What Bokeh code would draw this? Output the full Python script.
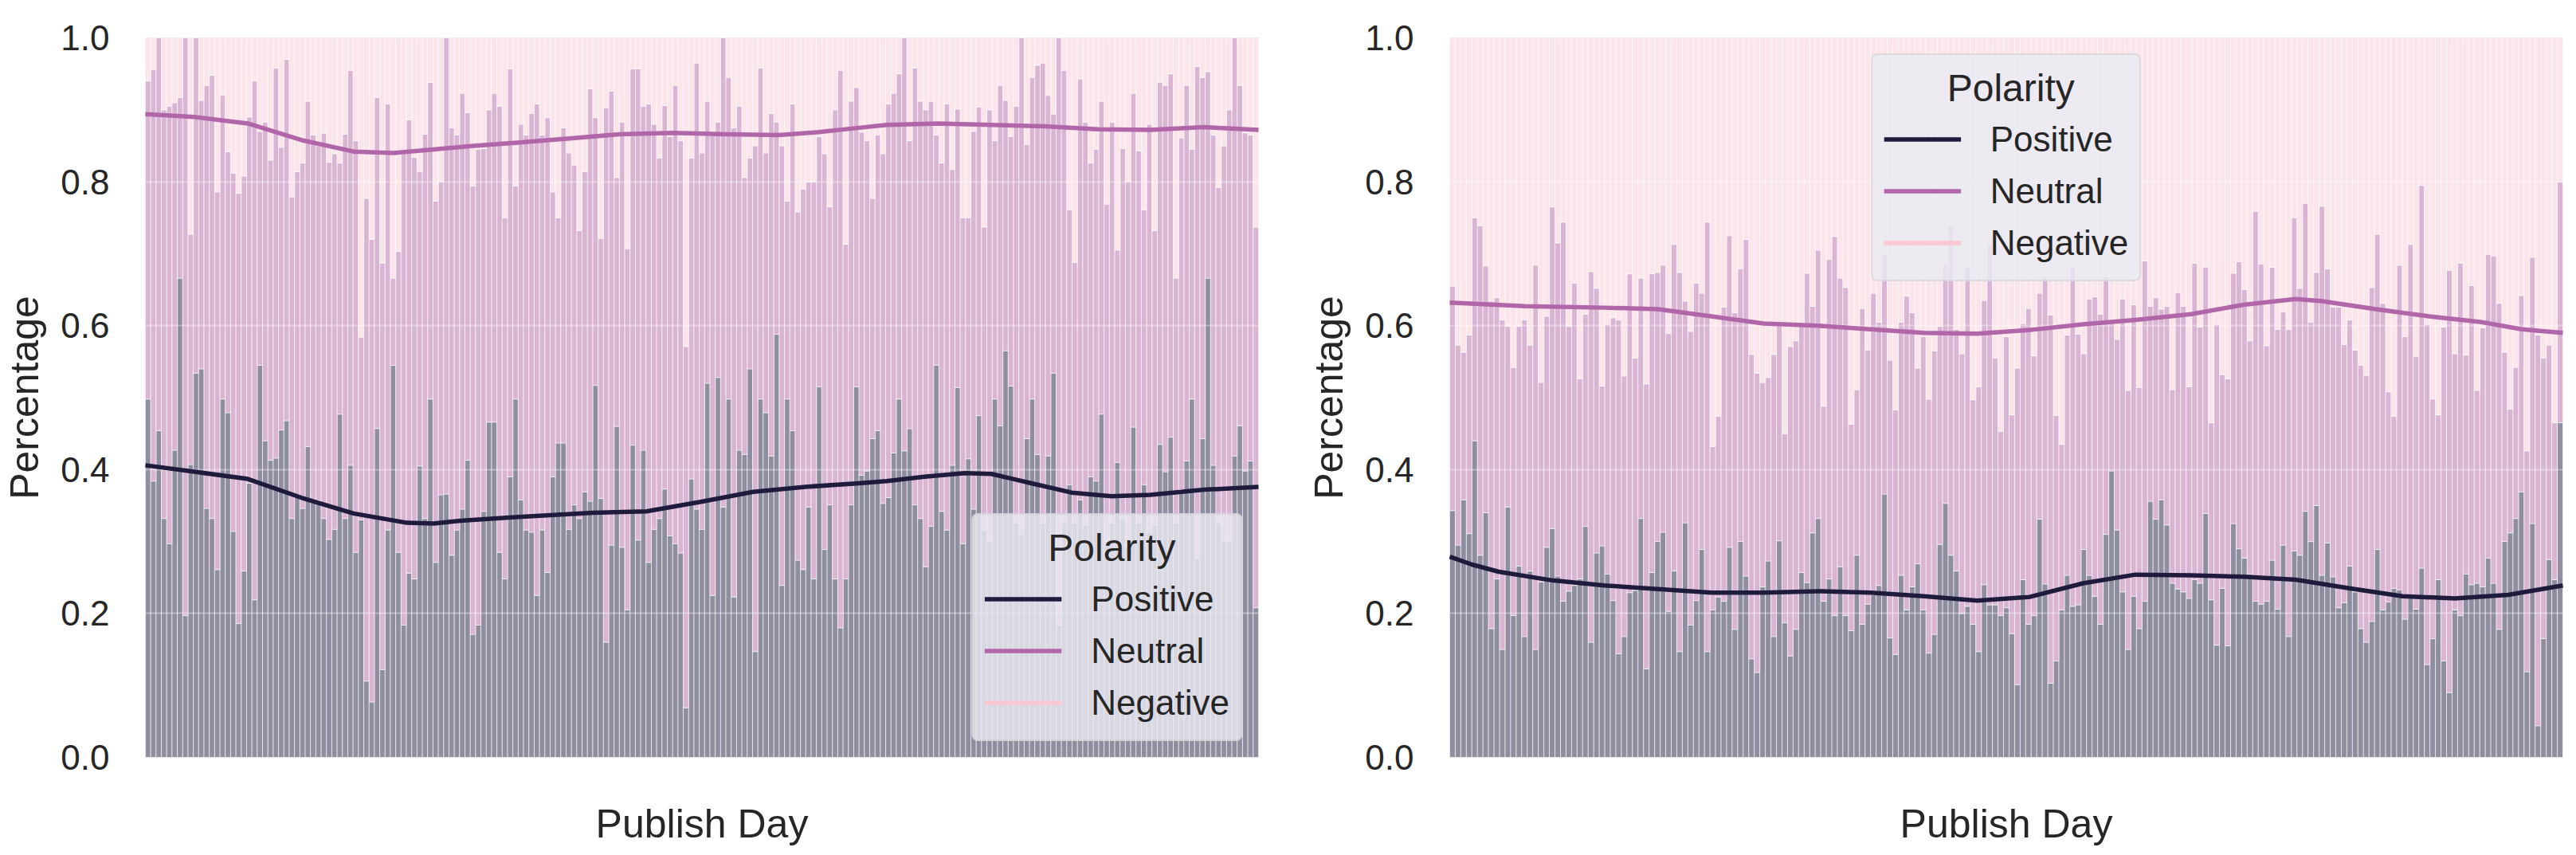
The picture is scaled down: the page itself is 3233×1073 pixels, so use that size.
import numpy as np
from bokeh.plotting import figure
from bokeh.models import (Range1d, FixedTicker, NumeralTickFormatter, Legend,
                          LegendItem, ColumnDataSource)
from bokeh.layouts import row
from bokeh.embed import file_html
from bokeh.resources import INLINE

# ---------------- data ----------------
CATEGORIES = ["Positive", "Neutral", "Negative"]
LEGEND_TITLE = "Polarity"
Y_TICKS = [0.0, 0.2, 0.4, 0.6, 0.8, 1.0]

# Left panel: share of Positive per bin, and cumulative share Positive+Neutral
left_positive = [
    0.498, 0.384, 0.454, 0.332, 0.297, 0.427, 0.666, 0.197, 0.407, 0.534,
    0.54, 0.346, 0.332, 0.261, 0.498, 0.479, 0.314, 0.186, 0.259, 0.381,
    0.219, 0.545, 0.44, 0.413, 0.416, 0.455, 0.468, 0.332, 0.365, 0.346,
    0.432, 0.358, 0.357, 0.332, 0.303, 0.317, 0.477, 0.332, 0.406, 0.285,
    0.33, 0.106, 0.077, 0.457, 0.122, 0.316, 0.545, 0.285, 0.184, 0.256,
    0.248, 0.405, 0.332, 0.498, 0.271, 0.365, 0.366, 0.281, 0.316, 0.345,
    0.413, 0.171, 0.184, 0.342, 0.466, 0.466, 0.285, 0.248, 0.39, 0.498,
    0.358, 0.316, 0.313, 0.225, 0.316, 0.257, 0.39, 0.437, 0.437, 0.317,
    0.351, 0.332, 0.369, 0.356, 0.517, 0.36, 0.16, 0.295, 0.46, 0.292,
    0.205, 0.434, 0.302, 0.427, 0.271, 0.317, 0.332, 0.373, 0.308, 0.297,
    0.284, 0.069, 0.387, 0.345, 0.317, 0.52, 0.225, 0.528, 0.348, 0.498,
    0.223, 0.427, 0.421, 0.54, 0.147, 0.498, 0.479, 0.419, 0.588, 0.239,
    0.498, 0.454, 0.274, 0.261, 0.348, 0.248, 0.515, 0.289, 0.351, 0.248,
    0.18, 0.248, 0.351, 0.515, 0.392, 0.398, 0.443, 0.454, 0.353, 0.361,
    0.423, 0.498, 0.426, 0.457, 0.351, 0.332, 0.265, 0.321, 0.545, 0.342,
    0.316, 0.406, 0.514, 0.297, 0.415, 0.345, 0.475, 0.316, 0.3, 0.498,
    0.461, 0.565, 0.516, 0.326, 0.31, 0.443, 0.498, 0.421, 0.326, 0.419,
    0.534, 0.184, 0.326, 0.379, 0.326, 0.358, 0.323, 0.39, 0.384, 0.477,
    0.3, 0.326, 0.41, 0.332, 0.294, 0.459, 0.326, 0.379, 0.313, 0.323,
    0.435, 0.397, 0.445, 0.326, 0.372, 0.412, 0.498, 0.277, 0.443, 0.666,
    0.406, 0.326, 0.3, 0.301, 0.419, 0.461, 0.398, 0.412, 0.208,
]
left_pos_plus_neutral = [
    0.94, 0.956, 1.0, 0.90, 0.905, 0.91, 0.917, 1.0, 0.727, 1.0,
    0.913, 0.934, 0.948, 0.786, 0.92, 0.842, 0.812, 0.784, 0.808, 0.89,
    0.94, 0.87, 0.883, 0.83, 0.958, 0.848, 0.97, 0.779, 0.814, 0.826,
    0.912, 0.865, 0.85, 0.867, 0.827, 0.839, 0.826, 0.866, 0.955, 0.857,
    0.584, 0.777, 0.72, 0.917, 0.687, 0.908, 0.666, 0.703, 0.84, 0.886,
    0.834, 0.814, 0.866, 0.938, 0.773, 0.8, 1.0, 0.875, 0.865, 0.923,
    0.896, 0.794, 0.845, 0.846, 0.9, 0.923, 0.905, 0.75, 0.957, 0.794,
    0.88, 0.865, 0.895, 0.908, 0.865, 0.889, 0.786, 0.75, 0.875, 0.84,
    0.823, 0.732, 0.814, 0.929, 0.889, 0.721, 0.903, 0.926, 0.806, 0.883,
    0.707, 0.957, 0.957, 0.905, 0.908, 0.88, 0.833, 0.906, 0.863, 0.934,
    0.857, 0.571, 0.833, 0.965, 0.84, 0.912, 0.865, 0.883, 1.0, 0.945,
    0.875, 0.905, 0.806, 0.833, 0.85, 0.958, 0.84, 0.895, 0.883, 0.85,
    0.773, 0.908, 0.758, 0.79, 0.8, 0.8, 0.863, 0.839, 0.765, 0.9,
    0.955, 0.713, 0.912, 0.931, 0.869, 0.857, 0.777, 0.865, 0.839, 0.908,
    0.923, 0.95, 1.0, 0.857, 0.958, 0.912, 0.9, 0.912, 0.865, 0.826,
    0.908, 0.817, 0.901, 0.75, 0.75, 0.87, 0.904, 0.737, 0.9, 0.857,
    0.934, 0.913, 0.863, 0.905, 1.0, 0.852, 0.945, 0.962, 0.965, 0.92,
    0.894, 1.0, 0.955, 0.761, 0.688, 0.943, 0.883, 0.826, 0.845, 0.912,
    0.769, 0.883, 0.705, 0.846, 0.8, 0.923, 0.843, 0.761, 0.88, 0.732,
    0.938, 0.934, 0.95, 0.666, 0.861, 0.934, 0.845, 0.96, 0.945, 0.953,
    0.865, 0.792, 0.85, 0.9, 1.0, 0.934, 0.868, 0.865, 0.737,
]

# Right panel
right_positive = [
    0.343, 0.295, 0.358, 0.311, 0.44, 0.281, 0.34, 0.179, 0.248, 0.15,
    0.348, 0.197, 0.266, 0.168, 0.259, 0.15, 0.244, 0.292, 0.318, 0.252,
    0.217, 0.231, 0.239, 0.248, 0.321, 0.16, 0.284, 0.294, 0.255, 0.218,
    0.144, 0.168, 0.229, 0.232, 0.332, 0.123, 0.257, 0.3, 0.313, 0.203,
    0.259, 0.147, 0.326, 0.184, 0.218, 0.289, 0.147, 0.205, 0.223, 0.217,
    0.292, 0.178, 0.3, 0.252, 0.137, 0.118, 0.237, 0.273, 0.168, 0.301,
    0.187, 0.141, 0.178, 0.257, 0.243, 0.312, 0.332, 0.217,
    0.248, 0.197, 0.265, 0.197, 0.176, 0.281, 0.185, 0.213, 0.226, 0.239,
    0.366, 0.166, 0.143, 0.253, 0.205, 0.237, 0.269, 0.205, 0.145, 0.171,
    0.296, 0.353, 0.281, 0.259, 0.2, 0.21, 0.185, 0.147, 0.24, 0.212,
    0.212, 0.197, 0.208, 0.172, 0.101, 0.247, 0.185, 0.197, 0.331, 0.241,
    0.103, 0.134, 0.205, 0.253, 0.21, 0.212, 0.289, 0.253, 0.224, 0.185,
    0.31, 0.398, 0.316, 0.23, 0.15, 0.224, 0.179, 0.217, 0.356, 0.331,
    0.358, 0.323, 0.242, 0.234, 0.23, 0.221, 0.247,
    0.242, 0.339, 0.219, 0.156, 0.235, 0.155, 0.325, 0.29, 0.277, 0.255,
    0.217, 0.213, 0.217, 0.274, 0.206, 0.295, 0.168, 0.287, 0.281, 0.342,
    0.3, 0.35, 0.253, 0.298, 0.251, 0.208, 0.215, 0.266, 0.23, 0.179,
    0.16, 0.189, 0.289, 0.205, 0.216, 0.235, 0.233, 0.192, 0.223, 0.206,
    0.263, 0.129, 0.165, 0.247, 0.134, 0.09, 0.205, 0.197, 0.255, 0.24,
    0.242, 0.237, 0.277, 0.242, 0.178, 0.3, 0.312, 0.332, 0.369, 0.119,
    0.325, 0.044, 0.165, 0.275, 0.247, 0.465,
]
right_pos_plus_neutral = [
    0.655, 0.573, 0.563, 0.587, 0.75, 0.739, 0.683, 0.634, 0.639, 0.608,
    0.599, 0.542, 0.599, 0.608, 0.573, 0.684, 0.521, 0.613, 0.765, 0.715,
    0.744, 0.599, 0.659, 0.526, 0.616, 0.675, 0.652, 0.516, 0.602, 0.611,
    0.608, 0.53, 0.672, 0.555, 0.666, 0.519, 0.672, 0.674, 0.684, 0.589,
    0.713, 0.674, 0.634, 0.592, 0.659, 0.645, 0.744, 0.432, 0.474, 0.626,
    0.725, 0.618, 0.679, 0.72, 0.56, 0.534, 0.521, 0.528, 0.56, 0.6,
    0.45, 0.571, 0.579, 0.599, 0.673, 0.627, 0.705, 0.488,
    0.692, 0.724, 0.666, 0.653, 0.463, 0.511, 0.624, 0.566, 0.645, 0.605,
    0.7, 0.552, 0.483, 0.605, 0.641, 0.618, 0.541, 0.585, 0.498, 0.565,
    0.599, 0.687, 0.739, 0.595, 0.561, 0.681, 0.497, 0.515, 0.635, 0.713,
    0.555, 0.453, 0.585, 0.476, 0.541, 0.603, 0.624, 0.558, 0.645, 0.668,
    0.615, 0.475, 0.435, 0.587, 0.681, 0.588, 0.561, 0.637, 0.64, 0.616,
    0.668, 0.606, 0.581, 0.637, 0.51, 0.629, 0.514, 0.69, 0.627, 0.639,
    0.623, 0.627, 0.511, 0.646, 0.627, 0.515, 0.687,
    0.598, 0.681, 0.465, 0.602, 0.532, 0.526, 0.673, 0.689, 0.65, 0.579,
    0.759, 0.686, 0.572, 0.681, 0.595, 0.619, 0.595, 0.75, 0.652, 0.77,
    0.605, 0.674, 0.766, 0.679, 0.626, 0.626, 0.574, 0.608, 0.566, 0.545,
    0.531, 0.653, 0.727, 0.631, 0.508, 0.474, 0.684, 0.585, 0.713, 0.557,
    0.795, 0.602, 0.498, 0.476, 0.598, 0.677, 0.561, 0.687, 0.559, 0.656,
    0.51, 0.597, 0.699, 0.697, 0.631, 0.563, 0.484, 0.542, 0.642, 0.426,
    0.695, 0.587, 0.555, 0.573, 0.465, 0.8,
]

# KDE curves (stacked, x given as fraction of the day range)
left_kde_pos_x = [0, 0.044, 0.092, 0.14, 0.187, 0.235, 0.259, 0.283, 0.332, 0.402,
                  0.45, 0.498, 0.546, 0.593, 0.641, 0.666, 0.70, 0.736, 0.76, 0.796,
                  0.832, 0.868, 0.903, 0.951, 1.0]
left_kde_pos = [0.406, 0.397, 0.387, 0.361, 0.339, 0.326, 0.325, 0.329, 0.334, 0.34,
                0.342, 0.355, 0.369, 0.376, 0.381, 0.384, 0.39, 0.395, 0.394, 0.381,
                0.368, 0.363, 0.365, 0.372, 0.376]
left_kde_neu_x = [0, 0.044, 0.092, 0.14, 0.187, 0.223, 0.259, 0.295, 0.332, 0.379,
                  0.426, 0.474, 0.522, 0.569, 0.605, 0.641, 0.666, 0.712, 0.76, 0.808,
                  0.856, 0.903, 0.951, 1.0]
left_kde_neu = [0.894, 0.89, 0.881, 0.858, 0.842, 0.84, 0.845, 0.85, 0.854, 0.86,
                0.866, 0.868, 0.866, 0.865, 0.869, 0.875, 0.879, 0.881, 0.879, 0.877,
                0.873, 0.872, 0.876, 0.872]
right_kde_pos_x = [0, 0.02, 0.044, 0.092, 0.139, 0.187, 0.235, 0.282, 0.331, 0.378,
                   0.426, 0.474, 0.521, 0.569, 0.616, 0.666, 0.713, 0.76, 0.808, 0.856,
                   0.903, 0.951, 1.0]
right_kde_pos = [0.279, 0.268, 0.258, 0.246, 0.239, 0.234, 0.229, 0.229, 0.231, 0.229,
                 0.224, 0.218, 0.223, 0.242, 0.254, 0.253, 0.251, 0.247, 0.235, 0.224,
                 0.221, 0.226, 0.239]
right_kde_neu_x = [0, 0.068, 0.139, 0.187, 0.211, 0.235, 0.282, 0.331, 0.378, 0.426,
                   0.474, 0.521, 0.569, 0.616, 0.666, 0.713, 0.76, 0.784, 0.832, 0.88,
                   0.927, 0.963, 1.0]
right_kde_neu = [0.632, 0.627, 0.625, 0.623, 0.618, 0.613, 0.603, 0.6, 0.595, 0.59,
                 0.589, 0.594, 0.602, 0.608, 0.616, 0.629, 0.637, 0.634, 0.623, 0.613,
                 0.605, 0.595, 0.59]
kde_neg_x = [0.0, 1.0]
kde_neg = [1.0, 1.0]

# ---------------- styles ----------------
LINE_COLORS = ["#1e1b3d", "#b066a8", "#f9c6d1"]
BAR_COLORS = ["#8f8ea0", "#d9b5d3", "#fbe5ea"]
FONT = "Liberation Sans"
TEXT = "#262626"


def make_panel(positive, pos_neu, kde_pos_x, kde_pos, kde_neu_x, kde_neu,
               legend_loc, border_left, border_right):
    n = len(positive)
    edges = np.arange(n + 1) / n
    src = ColumnDataSource(dict(
        left=edges[:-1], right=edges[1:],
        pos=positive, posneu=pos_neu,
        zero=np.zeros(n), one=np.ones(n)))

    p = figure(frame_width=1397, frame_height=903,
               x_range=Range1d(0, 1), y_range=Range1d(0, 1),
               output_backend="svg", toolbar_location=None,
               min_border_left=border_left, min_border_right=border_right,
               min_border_top=47, min_border_bottom=100)
    p.background_fill_color = "#EAEAF2"
    p.border_fill_color = "white"
    p.outline_line_color = None

    # hidden under the bars (the Negative curve sits on the 1.0 edge)
    r_neg = p.line(kde_neg_x, kde_neg, line_color=LINE_COLORS[2], line_width=5.5, level="underlay")

    common = dict(source=src, line_color="white", line_width=1, line_alpha=0.6)
    p.quad(left="left", right="right", bottom="zero", top="pos",
           fill_color=BAR_COLORS[0], **common)
    p.quad(left="left", right="right", bottom="pos", top="posneu",
           fill_color=BAR_COLORS[1], **common)
    p.quad(left="left", right="right", bottom="posneu", top="one",
           fill_color=BAR_COLORS[2], **common)

    r_pos = p.line(kde_pos_x, kde_pos, line_color=LINE_COLORS[0], line_width=5.5,
                   line_join="round", level="overlay")
    r_neu = p.line(kde_neu_x, kde_neu, line_color=LINE_COLORS[1], line_width=5.5,
                   line_join="round", level="overlay")

    # axes
    p.yaxis.ticker = FixedTicker(ticks=Y_TICKS)
    p.yaxis.formatter = NumeralTickFormatter(format="0.0")
    p.xaxis.ticker = FixedTicker(ticks=[])
    for ax in (p.xaxis[0], p.yaxis[0]):
        ax.axis_line_color = None
        ax.major_tick_line_color = None
        ax.minor_tick_line_color = None
        ax.major_tick_out = 0
        ax.major_tick_in = 0
        ax.minor_tick_out = 0
        ax.minor_tick_in = 0
        ax.major_label_text_font = FONT
        ax.major_label_text_font_size = "44px"
        ax.major_label_text_color = TEXT
        ax.axis_label_text_font = FONT
        ax.axis_label_text_font_size = "50px"
        ax.axis_label_text_font_style = "normal"
        ax.axis_label_text_color = TEXT
    p.yaxis.axis_label = "Percentage"
    p.xaxis.axis_label = "Publish Day"
    p.yaxis.major_label_standoff = 45
    p.yaxis.axis_label_standoff = 14
    p.xaxis.major_label_standoff = 0
    p.xaxis.axis_label_standoff = 55

    p.xgrid.visible = False
    p.ygrid.grid_line_color = "white"
    p.ygrid.grid_line_alpha = 0.35
    p.ygrid.grid_line_width = 2
    p.ygrid.level = "guide"

    # title centred over the entries (non-breaking spaces as indent)
    legend = Legend(items=[LegendItem(label=CATEGORIES[0], renderers=[r_pos]),
                           LegendItem(label=CATEGORIES[1], renderers=[r_neu]),
                           LegendItem(label=CATEGORIES[2], renderers=[r_neg])],
                    title="\u00a0" * 6 + LEGEND_TITLE, location=legend_loc)
    legend.margin = 20
    legend.padding = 14
    legend.spacing = 0
    legend.glyph_width = 97
    legend.glyph_height = 65
    legend.label_height = 65
    legend.label_standoff = 37
    legend.label_text_font = FONT
    legend.label_text_font_size = "44px"
    legend.label_text_color = TEXT
    legend.title_text_font = FONT
    legend.title_text_font_size = "48px"
    legend.title_text_font_style = "normal"
    legend.title_text_color = TEXT
    legend.title_standoff = 4
    legend.background_fill_color = "#EAEAF2"
    legend.background_fill_alpha = 0.8
    legend.border_line_color = "#cccccc"
    legend.border_line_width = 2
    if "border_radius" in Legend.properties():
        legend.border_radius = 8
    p.add_layout(legend)
    return p


p1 = make_panel(left_positive, left_pos_plus_neutral, left_kde_pos_x, left_kde_pos,
                left_kde_neu_x, left_kde_neu, "bottom_right", 175, 58)
p2 = make_panel(right_positive, right_pos_plus_neutral, right_kde_pos_x, right_kde_pos,
                right_kde_neu_x, right_kde_neu, "top_center", 175, 12)

layout = row(p1, p2)
open("out.html", "w").write(file_html(layout, INLINE))
